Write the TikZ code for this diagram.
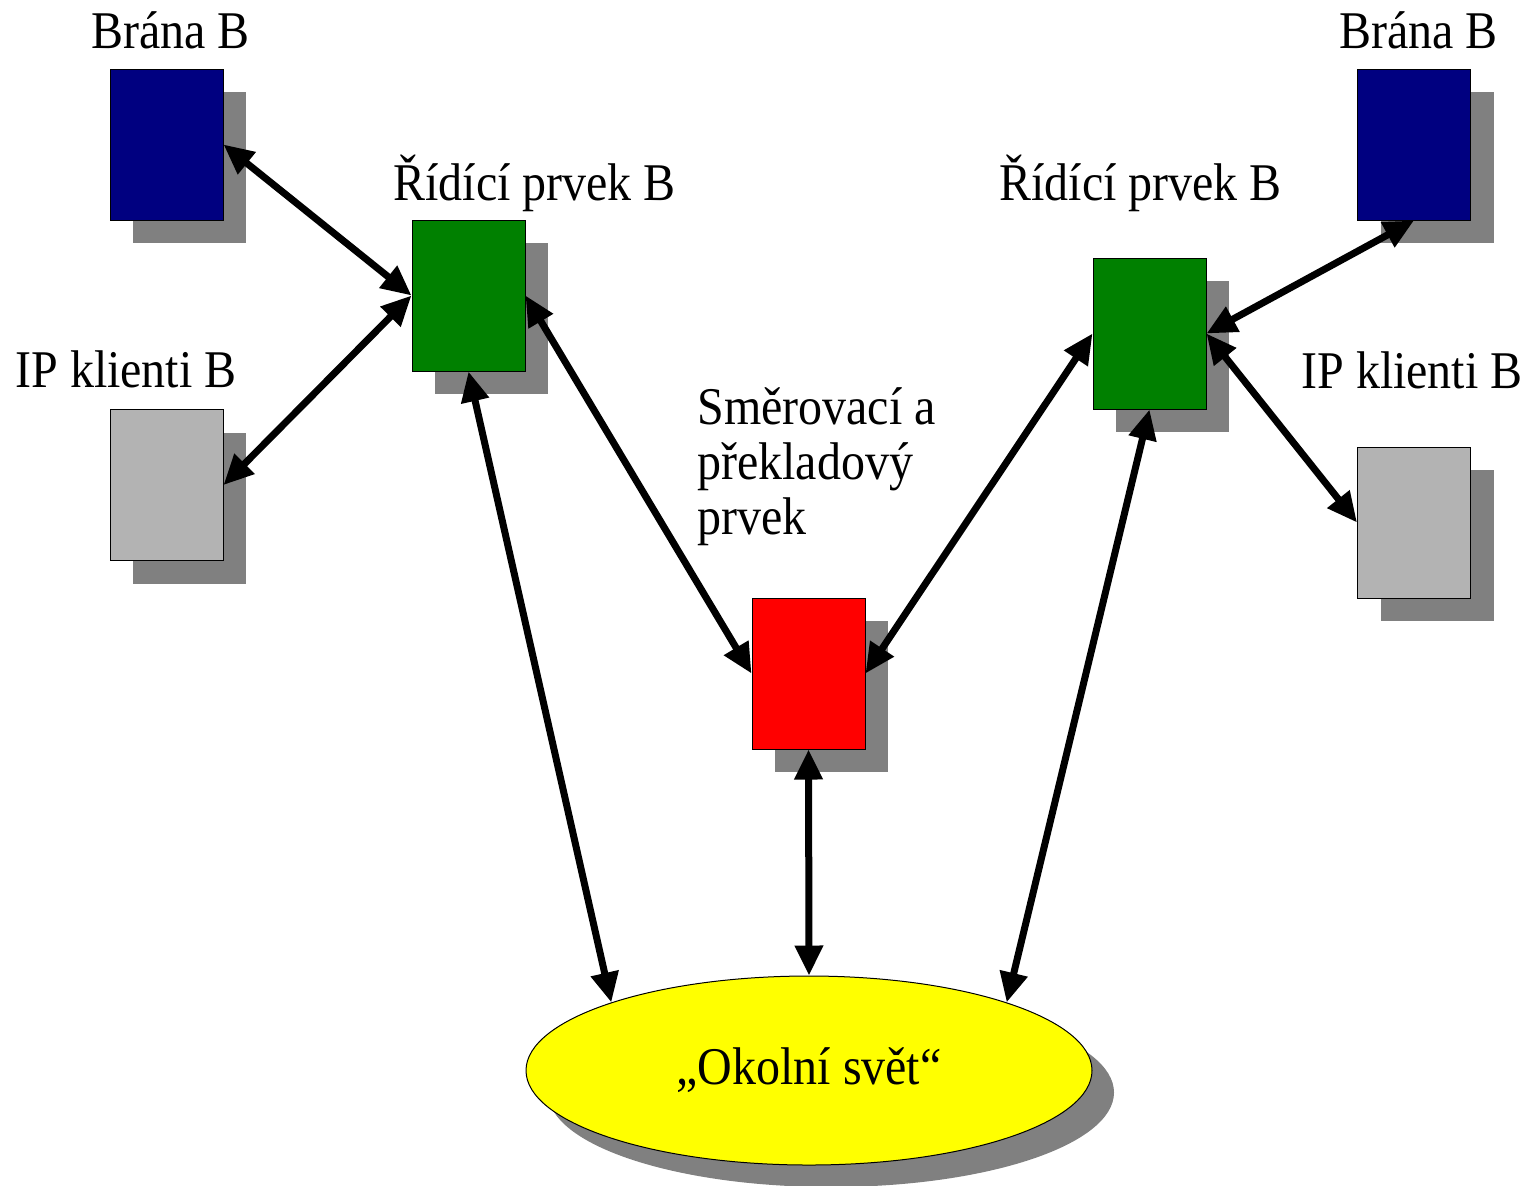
\documentclass[tikz,border=0pt]{standalone}
\usepackage{fontspec}
\setmainfont{Liberation Serif}[FakeStretch=0.905]
\usetikzlibrary{arrows.meta,shapes.geometric,shadows}
\definecolor{branacol}{HTML}{000080}
\definecolor{ridicol}{HTML}{008000}
\definecolor{smercol}{HTML}{FF0000}
\definecolor{klientcol}{HTML}{B3B3B3}
\definecolor{svetcol}{HTML}{FFFF00}
\definecolor{stin}{HTML}{808080}
\tikzset{box/.style={draw=black, line width=0.5pt, inner sep=0pt, minimum width=56.5pt, minimum height=75.5pt, drop shadow={shadow xshift=11.5pt, shadow yshift=-11.5pt, fill=stin, opacity=1}},
	brana/.style={box, fill=branacol}, klient/.style={box, fill=klientcol},
	ridici/.style={box, fill=ridicol}, smer/.style={box, fill=smercol},
	svet/.style={draw=black, line width=0.5pt, ellipse, inner sep=0pt, fill=svetcol, minimum width=283pt, minimum height=94.5pt, font=\fontsize{26.5}{27.5}\selectfont, drop shadow={shadow xshift=11pt, shadow yshift=-11pt, fill=stin, opacity=1}},
	popis/.style={font=\fontsize{26.5}{27.5}\selectfont, inner sep=0pt, anchor=base west, align=left},
	spoj/.style={line width=3.5pt, {Triangle[length=15pt,width=13.5pt]}-{Triangle[length=15pt,width=13.5pt]}}}

\begin{document}
\begin{tikzpicture}[x=0.5pt,y=-0.5pt]
		\useasboundingbox (0,0) rectangle (1530,1185);
		\node[brana]  (B1) at (166.5,144.5) {};
		\node[klient] (K1) at (166.5,485) {};
		\node[ridici] (R1) at (468.5,295.5) {};
		\node[smer]   (S)  at (808.5,673.5) {};
		\node[ridici] (R2) at (1149.5,333.5) {};
		\node[brana]  (B2) at (1414,144.5) {};
		\node[klient] (K2) at (1414,522.5) {};
		\node[svet]   (O)  at (809,1070.5) {„Okolní svět“};

		% popisky
		\node[popis] (pB1) at (91,48) {Brána B};
		\node[popis] (pK1) at (15,387) {IP klienti B};
		\node[popis] (pR1) at (393,200) {Řídící prvek B};
		\node[popis, anchor=north west] (pS) at (697,387) {Směrovací a\\překladový\\prvek};
		\node[popis] (pR2) at (999,200) {Řídící prvek B};
		\node[popis] (pB2) at (1339,48) {Brána B};
		\node[popis] (pK2) at (1301,388) {IP klienti B};

		\draw[spoj] (B1.east) -- (R1.west);
		\draw[spoj] (K1.east) -- (R1.west);
		\draw[spoj] (R1.east) -- (S.west);
		\draw[spoj] (R1.south) -- (O.161);
		\draw[spoj] (S.south) -- (O.north);
		\draw[spoj] (S.east) -- (R2.west);
		\draw[spoj] (R2.south) -- (O.19);
		\draw[spoj] (R2.east) -- (B2.south);
		\draw[spoj] (R2.east) -- (K2.west);
	\end{tikzpicture}
\end{document}
